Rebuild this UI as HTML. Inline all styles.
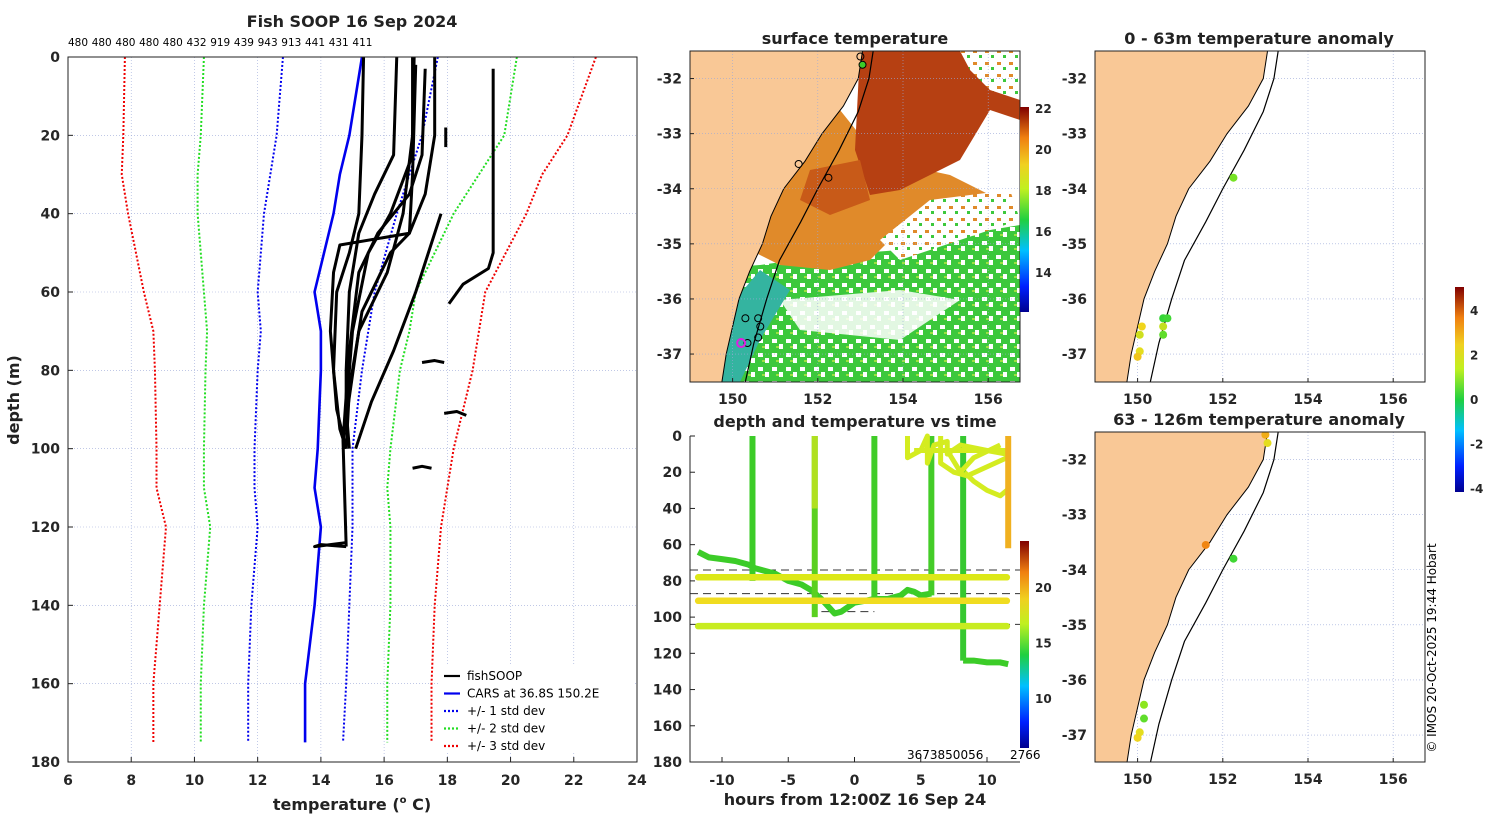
<!DOCTYPE html>
<html><head><meta charset="utf-8"><style>
body{margin:0;background:#fff;width:1500px;height:820px;overflow:hidden}
svg{font-family:"DejaVu Sans","Liberation Sans",sans-serif}
.t{font-weight:bold;font-size:16px;fill:#222}
.tk{font-weight:bold;font-size:14px;fill:#262626}
</style></head><body>
<svg id="fig" width="1500" height="820" viewBox="0 0 1500 820">
<defs>
<linearGradient id="jet" x1="0" y1="1" x2="0" y2="0">
<stop offset="0" stop-color="#00008f"/><stop offset="0.125" stop-color="#0020ff"/><stop offset="0.3" stop-color="#00c0ff"/><stop offset="0.45" stop-color="#20d040"/><stop offset="0.6" stop-color="#c0f020"/><stop offset="0.72" stop-color="#f0d020"/><stop offset="0.85" stop-color="#f08010"/><stop offset="1" stop-color="#800000"/></linearGradient>
<pattern id="holes" width="14" height="14" patternUnits="userSpaceOnUse"><rect width="14" height="14" fill="#3cc83c"/><rect x="2" y="3" width="5" height="4" fill="#fff"/><rect x="9" y="8" width="4" height="5" fill="#fff"/><rect x="6" y="10" width="3" height="2" fill="#9be040"/></pattern>
<pattern id="holes2" width="12" height="12" patternUnits="userSpaceOnUse"><rect width="12" height="12" fill="#fff"/><rect x="1" y="2" width="4" height="3" fill="#e08a2a"/><rect x="7" y="7" width="3" height="3" fill="#3cc83c"/></pattern>
<clipPath id="cMap1"><rect x="690" y="51" width="330" height="331"/></clipPath>
<clipPath id="cMap2"><rect x="1095" y="51" width="330" height="331"/></clipPath>
<clipPath id="cMap3"><rect x="1095" y="432" width="330" height="330"/></clipPath>
</defs>
<g id="root"></g>
</svg>
<script>
// ---------- data: left profile panel ----------
const stdDepths = [0, 20, 30, 40, 60, 70, 80, 100, 110, 120, 140, 160, 175];
const red1Left  = [7.8, 7.75, 7.7, 7.9, 8.4, 8.7, 8.75, 8.8, 8.8, 9.1, 8.9, 8.7, 8.7];
const green2Left= [10.3, 10.2, 10.1, 10.1, 10.3, 10.4, 10.35, 10.3, 10.3, 10.5, 10.3, 10.2, 10.2];
const blue1Left = [12.8, 12.6, 12.4, 12.2, 12.0, 12.1, 12.0, 11.9, 11.9, 12.0, 11.8, 11.7, 11.7];
const carsMean  = [15.3, 14.9, 14.6, 14.4, 13.8, 14.0, 14.0, 13.9, 13.8, 14.0, 13.8, 13.5, 13.5];
const blue1Right= [17.7, 17.2, 16.8, 16.4, 15.7, 15.5, 15.3, 15.0, 15.0, 15.0, 14.9, 14.8, 14.7];
const green2Right=[20.2, 19.8, 19.0, 18.2, 17.0, 16.8, 16.5, 16.2, 16.1, 16.2, 16.2, 16.1, 16.1];
const red3Right = [22.7, 21.8, 21.0, 20.5, 19.2, 19.0, 18.8, 18.2, 18.0, 17.8, 17.6, 17.5, 17.5];
const fishProfiles = [
 [[19.45,3],[19.45,50],[19.3,54],[18.5,58],[18.05,63]],
 [[17.95,18],[17.95,23]],
 [[16.4,0],[16.3,25],[15.7,35],[15.2,45],[14.9,60],[14.8,80],[14.8,95]],
 [[16.9,0],[16.9,25],[16.2,40],[15.5,50],[15.0,70],[14.8,90],[14.9,100]],
 [[17.3,3],[17.2,25],[16.8,35],[15.8,45],[15.2,55],[14.9,75],[14.7,98]],
 [[17.6,0],[17.6,20],[17.3,35],[16.8,45],[16.2,50],[15.3,65],[14.9,85],[14.8,100]],
 [[15.35,0],[15.3,20],[15.2,40],[14.9,50],[14.5,60],[14.4,80],[14.6,95],[14.8,100]],
 [[17.0,2],[16.9,30],[16.8,45],[14.6,48],[14.4,55],[14.3,70],[14.5,90],[14.8,100]],
 [[16.95,0],[16.9,20],[16.6,40],[16.1,55],[15.2,70],[14.7,98],[14.8,125]],
 [[17.8,40],[17.0,60],[16.3,75],[15.6,88],[15.1,100]],
 [[14.8,124],[13.8,125],[14.0,124.5],[14.8,125]],
 [[17.2,78],[17.6,77.5],[17.9,78]],
 [[17.9,91],[18.3,90.5],[18.6,91.5]],
 [[16.9,105],[17.2,104.5],[17.5,105]]
];
const profileCounts = ["480","480","480","480","480","432","919","439","943","913","441","431","411"];
const xTicks = [6,8,10,12,14,16,18,20,22,24];
const yTicks = [0,20,40,60,80,100,120,140,160,180];
// ---------- data: time panel ----------
const hTicks = [-10,-5,0,5,10];
const dTicks = [0,20,40,60,80,100,120,140,160,180];
const castTimes   = [-7.7, -3.0, 1.5, 5.8, 8.2];
const castBottoms = [80, 100, 92, 88, 124];
const castColors  = ["#3ccc28","#5ad020","#40cc28","#44cc28","#36c830"];
const bandDepths  = [78, 91, 105];
const bandColors  = ["#dce818","#f0dc20","#c8ec20"];
const dashDepths  = [74, 87, 104];
const trackTimes  = [-11.8,-11,-10,-9,-8,-7.5,-6,-5,-4,-3.3,-2.5,-2,-1.5,-1,0,0.8,1.5,2.5,3.5,4,4.5,5,5.8];
const trackDepths = [64,67,68,69,71,73,76,80,82,85,90,94,98,97,92,91,90,90,88,85,86,88,87];
const bottomTimes = [8.2,9,10,11,11.6];
const bottomDepths= [124,124,125,125,126];
const scribbles = [
 [[4,0],[4,12],[5,8],[5.5,0],[5.5,15],[6,5],[7,3],[7,10],[8,5],[10,8],[11.5,10]],
 [[7,8],[8,20],[9,12],[11,5]],
 [[8.3,20],[9,25],[10,30],[11,33],[11.5,30]],
 [[6.5,0],[6.5,15],[7.5,20],[8.5,22],[11.5,12]],
 [[4.5,8],[11.5,8]]
];
const orangeTime = 11.6, orangeTop = 0, orangeBottom = 62;
// ---------- data: maps ----------
const coast = [[153.05,-31.5],[152.95,-32.0],[152.6,-32.5],[152.1,-33.0],[151.7,-33.5],[151.2,-34.0],[150.9,-34.5],[150.7,-35.0],[150.4,-35.5],[150.15,-36.0],[150.0,-36.5],[149.85,-37.0],[149.75,-37.5]];
const isobath = [[153.3,-31.5],[153.2,-32.0],[152.95,-32.6],[152.5,-33.3],[152.0,-34.0],[151.6,-34.6],[151.1,-35.3],[150.8,-36.0],[150.5,-36.8],[150.3,-37.5]];
const sstObs = [[153.0,-31.6],[153.05,-31.75],[151.55,-33.55],[152.25,-33.8],[150.3,-36.35],[150.6,-36.35],[150.65,-36.5],[150.6,-36.7],[150.35,-36.8]];
const anomShallow = [[152.25,-33.8,0.8],[150.6,-36.35,0.2],[150.7,-36.35,0.3],[150.6,-36.5,1.5],[150.6,-36.65,0.6],[150.1,-36.5,2.0],[150.05,-36.65,1.6],[150.05,-36.95,1.8],[150.0,-37.05,2.2]];
const anomDeep = [[153.0,-31.55,2.5],[153.05,-31.7,1.8],[151.6,-33.55,3.0],[152.25,-33.8,0.3],[150.15,-36.45,1.0],[150.15,-36.7,0.6],[150.05,-36.95,1.8],[150.0,-37.05,2.0]];
const lonTicks = [150,152,154,156];
const latTicks = [-32,-33,-34,-35,-36,-37];

const NS="http://www.w3.org/2000/svg";
const root=document.getElementById('root');
function mk(tag,attrs,parent){const e=document.createElementNS(NS,tag);for(const k in attrs)e.setAttribute(k,attrs[k]);(parent||root).appendChild(e);return e;}
function txt(x,y,s,cls,anchor,parent){const e=mk('text',{x:x,y:y,class:cls||'tk','text-anchor':anchor||'middle'},parent);e.textContent=s;return e;}

// ===== Left panel =====
const L={x0:68,x1:637,y0:57,y1:762};
const tx=t=>L.x0+(t-6)/18*(L.x1-L.x0);
const dy=d=>L.y0+d/180*(L.y1-L.y0);
const lp=mk('g',{});


xTicks.forEach(t=>{const g=mk('line',{x1:tx(t),x2:tx(t),y1:L.y0,y2:L.y1,stroke:'#9aa8d8','stroke-width':0.6,'stroke-dasharray':'1 2'},lp);
 const l=txt(tx(t),L.y1+23,String(t),'tk','middle',lp);
 mk('line',{x1:tx(t),x2:tx(t),y1:L.y1,y2:L.y1-5,stroke:'#222'},lp);});
yTicks.forEach(d=>{const g=mk('line',{x1:L.x0,x2:L.x1,y1:dy(d),y2:dy(d),stroke:'#9aa8d8','stroke-width':0.6,'stroke-dasharray':'1 2'},lp);
 const l=txt(L.x0-8,dy(d)+5,String(d),'tk','end',lp);
 mk('line',{x1:L.x0,x2:L.x0+5,y1:dy(d),y2:dy(d),stroke:'#222'},lp);});
function series(vals,color,dash,name,w){const pts=vals.map((v,i)=>tx(v)+','+dy(stdDepths[i])).join(' ');const p=mk('polyline',{points:pts,fill:'none',stroke:color,'stroke-width':w||2,'stroke-dasharray':dash||'none'},lp);}
series(red1Left,'#ee0000','2 2','minus-3-std-line');
series(green2Left,'#22dd22','2 2','minus-2-std-line');
series(blue1Left,'#0000ee','2 2','minus-1-std-line');
series(carsMean,'#0000ee',null,'cars-mean-line',2.6);
series(blue1Right,'#0000ee','2 2','plus-1-std-line');
series(green2Right,'#22dd22','2 2','plus-2-std-line');
series(red3Right,'#ee0000','2 2','plus-3-std-line');
fishProfiles.forEach(pr=>{const p=mk('polyline',{points:pr.map(q=>tx(q[0])+','+dy(q[1])).join(' '),fill:'none',stroke:'#000','stroke-width':3,'stroke-linejoin':'round'},lp);});
mk('rect',{x:L.x0,y:L.y0,width:L.x1-L.x0,height:L.y1-L.y0,fill:'none',stroke:'#222'},lp);
profileCounts.forEach((c,i)=>{const e=mk('text',{x:68+i*23.7,y:46,'font-size':'10.5','fill':'#000'},lp);e.textContent=c;});
let e=txt(352,27,'Fish SOOP 16 Sep 2024','t','middle',lp);
e=mk('text',{x:352,y:810,class:'t','text-anchor':'middle'},lp);e.innerHTML='temperature (<tspan font-size="10" dy="-7">o</tspan><tspan dy="7"> C)</tspan>';
e=txt(0,0,'depth (m)','t','middle',lp);e.setAttribute('transform','translate(19,400) rotate(-90)');
// legend
const lg=mk('g',{},lp);
mk('rect',{x:440,y:665,width:193,height:88,fill:'#fff',stroke:'none'},lg);
[['fishSOOP','#000',null],['CARS at 36.8S 150.2E','#0000ee',null],['+/- 1 std dev','#0000ee','2 2'],['+/- 2 std dev','#22dd22','2 2'],['+/- 3 std dev','#ee0000','2 2']].forEach((r,i)=>{const y=676+i*17.5;
 const ln=mk('line',{x1:444,x2:460,y1:y,y2:y,stroke:r[1],'stroke-width':2.2,'stroke-dasharray':r[2]||'none'},lg);
 const t=mk('text',{x:467,y:y+4,'font-size':'12',fill:'#000'},lg);t.textContent=r[0];});

// ===== Maps =====
function mapProj(x0,y0){return {lx:lon=>x0+(lon-149)*42.6, ly:lat=>y0+(-31.5-lat)*55.1};}
function drawMapFrame(g,P,x0,y0,w,h){
 lonTicks.forEach(lo=>{mk('line',{x1:P.lx(lo),x2:P.lx(lo),y1:y0,y2:y0+h,stroke:'#9aa8d8','stroke-width':0.6,'stroke-dasharray':'1 2'},g);
  const t=txt(P.lx(lo),y0+h+22,String(lo),'tk','middle',g);
  mk('line',{x1:P.lx(lo),x2:P.lx(lo),y1:y0+h,y2:y0+h-4,stroke:'#222'},g);});
 latTicks.forEach(la=>{mk('line',{x1:x0,x2:x0+w,y1:P.ly(la),y2:P.ly(la),stroke:'#9aa8d8','stroke-width':0.6,'stroke-dasharray':'1 2'},g);
  const t=txt(x0-8,P.ly(la)+5,String(la),'tk','end',g);
  mk('line',{x1:x0,x2:x0+4,y1:P.ly(la),y2:P.ly(la),stroke:'#222'},g);});
}
function landPoly(P,x0,y0,h){return [[x0,y0]].concat(coast.map(c=>[P.lx(c[0]),P.ly(c[1])])).concat([[x0,y0+h+40]]).map(p=>p.join(',')).join(' ');}
function anomColor(a){const f=(a+4.1)/9.1;const st=[[0,[0,0,143]],[0.2,[0,60,255]],[0.38,[0,200,255]],[0.46,[40,210,60]],[0.56,[140,230,30]],[0.66,[240,220,30]],[0.8,[240,120,16]],[1,[128,0,0]]];
 for(let i=1;i<st.length;i++){if(f<=st[i][0]){const a0=st[i-1],a1=st[i],k=(f-a0[0])/(a1[0]-a0[0]);return 'rgb('+a0[1].map((v,j)=>Math.round(v+(a1[1][j]-v)*k)).join(',')+')';}}return '#800000';}

// map 1 SST
(function(){const x0=690,y0=51,w=330,h=331;const P=mapProj(x0,y0);
 const g=mk('g',{});
 const c=mk('g',{'clip-path':'url(#cMap1)'},g);
 mk('rect',{x:x0,y:y0,width:w,height:h,fill:'#fff'},c);
 mk('polygon',{points:'690,270 760,265 830,255 900,250 960,235 1020,225 1020,382 690,382',fill:'url(#holes)'},c);
 mk('polygon',{points:'780,300 900,290 960,300 900,340 800,330',fill:'#fff',opacity:0.85},c);
 mk('polygon',{points:'840,110 880,160 950,175 1000,200 960,215 900,230 870,260 830,270 780,265 750,250 770,200 800,160',fill:'#e08a2a'},c);
 mk('polygon',{points:'930,200 1010,190 1020,220 960,240 900,260 880,240',fill:'url(#holes2)'},c);
 mk('polygon',{points:'860,51 1020,51 1020,120 990,110 960,160 900,190 870,195 855,150',fill:'#b64012'},c);
 mk('polygon',{points:'960,51 1020,51 1020,100 990,90 970,70',fill:'url(#holes2)'},c);
 mk('polygon',{points:'810,170 860,160 870,200 830,215 800,200',fill:'#c85a18'},c);
 mk('polygon',{points:'735,300 760,270 790,290 760,340 740,382 720,382',fill:'#34b4a0'},c);
 const land=mk('polygon',{points:landPoly(P,x0,y0,h),fill:'#f9c896',stroke:'#000','stroke-width':1},c);
 const iso=mk('polyline',{points:isobath.map(q=>P.lx(q[0])+','+P.ly(q[1])).join(' '),fill:'none',stroke:'#000','stroke-width':1.2},c);
 sstObs.forEach((o,i)=>{const m=mk('circle',{cx:P.lx(o[0]),cy:P.ly(o[1]),r:3.5,fill:i==1?'#3ccc28':'none',stroke:'#000','stroke-width':1},c);});
 mk('circle',{cx:P.lx(150.2),cy:P.ly(-36.8),r:4,fill:'none',stroke:'#e020e0','stroke-width':2},c);
 drawMapFrame(g,P,x0,y0,w,h);
 mk('rect',{x:x0,y:y0,width:w,height:h,fill:'none',stroke:'#222'},g);
 let t=txt(855,44,'surface temperature','t','middle',g);
 const cb=mk('rect',{x:1020,y:107,width:9,height:205,fill:'url(#jet)'},g);
 [22,20,18,16,14].forEach(v=>{const y=107+(22.1-v)*20.5;const l=mk('text',{x:1035,y:y+4,'font-size':'12','font-weight':'bold',fill:'#262626'},g);l.textContent=String(v);});
})();

function anomMap(x0,y0,h,pts,title,name,clip){const w=330;const P=mapProj(x0,y0);
 const g=mk('g',{});
 drawMapFrame(g,P,x0,y0,w,h);
 const c=mk('g',{'clip-path':'url(#'+clip+')'},g);
 const land=mk('polygon',{points:landPoly(P,x0,y0,h),fill:'#f9c896',stroke:'#000','stroke-width':1},c);
 const iso=mk('polyline',{points:isobath.map(q=>P.lx(q[0])+','+P.ly(q[1])).join(' '),fill:'none',stroke:'#000','stroke-width':1.2},c);
 pts.forEach(o=>{const m=mk('circle',{cx:P.lx(o[0]),cy:P.ly(o[1]),r:4,fill:anomColor(o[2])},c);});
 mk('rect',{x:x0,y:y0,width:w,height:h,fill:'none',stroke:'#222'},g);
 const t=txt(x0+164,y0-7,title,'t','middle',g);}
anomMap(1095,51,331,anomShallow,'0 - 63m temperature anomaly','shallow-anomaly-map','cMap2');
anomMap(1095,432,330,anomDeep,'63 - 126m temperature anomaly','deep-anomaly-map','cMap3');
(function(){const g=mk('g',{});
 mk('rect',{x:1455,y:287,width:9,height:205,fill:'url(#jet)'},g);
 [4,2,0,-2,-4].forEach(v=>{const y=400-v*22.3;const l=mk('text',{x:1470,y:y+4,'font-size':'12','font-weight':'bold',fill:'#262626'},g);l.textContent=String(v);});})();

// ===== time panel =====
(function(){const x0=690,y0=436,x1=1020,y1=762;
 const hx=h=>722+(h+10)*13.25, dd=d=>y0+d/180*(y1-y0);
 const g=mk('g',{});
 hTicks.forEach(h=>{const t=txt(hx(h),y1+23,String(h),'tk','middle',g);mk('line',{x1:hx(h),x2:hx(h),y1:y1,y2:y1-5,stroke:'#222'},g);});
 dTicks.forEach(d=>{const t=txt(x0-8,dd(d)+5,String(d),'tk','end',g);mk('line',{x1:x0,x2:x0+5,y1:dd(d),y2:dd(d),stroke:'#222'},g);});
 dashDepths.forEach(d=>{const l=mk('line',{x1:x0,x2:x1,y1:dd(d),y2:dd(d),stroke:'#333','stroke-width':1,'stroke-dasharray':'8 5'},g);});
 mk('line',{x1:hx(8.2),x2:hx(11.6),y1:dd(125),y2:dd(125),stroke:'#333','stroke-dasharray':'8 5'},g);
 mk('line',{x1:hx(-2.5),x2:hx(1.5),y1:dd(97),y2:dd(97),stroke:'#333','stroke-dasharray':'8 5'},g);
 const tr=mk('polyline',{points:trackTimes.map((t,i)=>hx(t)+','+dd(trackDepths[i])).join(' '),fill:'none',stroke:'#3ccc28','stroke-width':6,'stroke-linejoin':'round'},g);
 castTimes.forEach((t,i)=>{const l=mk('line',{x1:hx(t),x2:hx(t),y1:dd(0),y2:dd(castBottoms[i]),stroke:castColors[i],'stroke-width':6},g);});
 mk('line',{x1:hx(-3.0),x2:hx(-3.0),y1:dd(0),y2:dd(40),stroke:'#b0e020','stroke-width':6},g);
 const bt=mk('polyline',{points:bottomTimes.map((t,i)=>hx(t)+','+dd(bottomDepths[i])).join(' '),fill:'none',stroke:'#3ccc28','stroke-width':6},g);
 bandDepths.forEach((d,i)=>{const l=mk('line',{x1:hx(-11.8),x2:hx(11.5),y1:dd(d),y2:dd(d),stroke:bandColors[i],'stroke-width':6.5,'stroke-linecap':'round'},g);});
 scribbles.forEach(s=>{const p=mk('polyline',{points:s.map(q=>hx(q[0])+','+dd(q[1])).join(' '),fill:'none',stroke:'#d4ec20','stroke-width':5,'stroke-linejoin':'round'},g);});
 const o=mk('line',{x1:hx(orangeTime),x2:hx(orangeTime),y1:dd(orangeTop),y2:dd(orangeBottom),stroke:'#f0b020','stroke-width':6},g);
 mk('polyline',{points:[x0,y0,x0,y1,x1,y1].join(' '),fill:'none',stroke:'#222'},g);
 let t=mk('text',{x:907,y:759,'font-size':'12',fill:'#000'},g);t.textContent='3673850056';
 t=mk('text',{x:1010,y:759,'font-size':'12',fill:'#000'},g);t.textContent='2766';
 t=txt(855,427,'depth and temperature vs time','t','middle',g);
 t=txt(855,805,'hours from 12:00Z 16 Sep 24','t','middle',g);
 const cb=mk('rect',{x:1020,y:541,width:9,height:207,fill:'url(#jet)'},g);
 [20,15,10].forEach(v=>{const y=588+(20-v)*11.1;const l=mk('text',{x:1035,y:y+4,'font-size':'12','font-weight':'bold',fill:'#262626'},g);l.textContent=String(v);});
})();
e=mk('text',{'font-size':'12',fill:'#000','text-anchor':'middle',transform:'translate(1436,648) rotate(-90)'});e.textContent='© IMOS 20-Oct-2025 19:44 Hobart';
</script>
</body></html>
